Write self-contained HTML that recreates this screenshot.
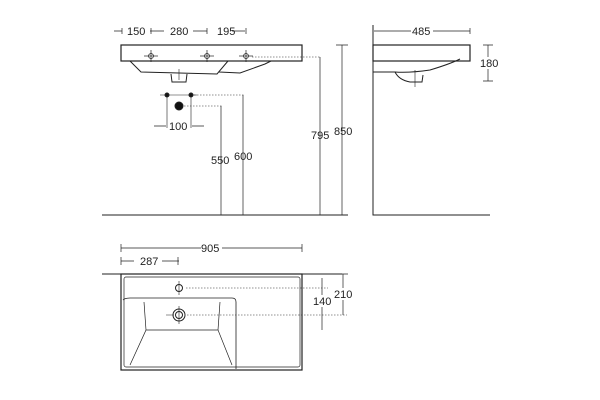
<!DOCTYPE html><html><head><style>body{margin:0;background:#fff}svg{display:block}text{font-family:"Liberation Sans",sans-serif;font-size:11px;fill:#222;stroke:none}</style></head><body>
<svg width="600" height="400" viewBox="0 0 600 400" fill="none" stroke="#222" stroke-width="1">
<!-- front view -->
<line x1="102" y1="215" x2="348" y2="215"/>
<rect x="121" y="45" width="181" height="16" stroke-width="1.2"/>
<path d="M130 61 L141 72 L217 74 L228 61 M219 72 L240 73 L265 64 L271 61"/>
<rect x="171" y="74" width="15" height="8" stroke="none" fill="#fff"/>
<path d="M171 74 L172 82 L186 82 L187 74"/>
<line x1="179" y1="69" x2="179" y2="80" stroke-width="0.6"/>
<g stroke-width="0.7"><circle cx="151" cy="56" r="2.5"/><circle cx="207" cy="56" r="2.5"/><circle cx="246" cy="56" r="2.5"/>
<line x1="144" y1="56" x2="158" y2="56"/><line x1="200" y1="56" x2="214" y2="56"/><line x1="239" y1="56" x2="253" y2="56"/>
<line x1="151" y1="50" x2="151" y2="62"/><line x1="207" y1="50" x2="207" y2="62"/><line x1="246" y1="50" x2="246" y2="62"/></g>
<g stroke-width="0.7"><path d="M114 31h8M150 31h14M193 31h14M232 31h13" /><path d="M122 28v6M151 28v6M207 28v6M246 28v6"/></g>
<text x="127" y="35">150</text><text x="170" y="35">280</text><text x="217" y="35">195</text>
<circle cx="167" cy="95" r="2" fill="#111"/><circle cx="191" cy="95" r="2" fill="#111"/>
<line x1="160" y1="95" x2="197" y2="95" stroke-width="0.6"/>
<circle cx="179" cy="106" r="4" fill="#111"/>
<path d="M167 97v31M191 97v31" stroke-width="0.6"/>
<path d="M154 126h12M192 126h12" stroke-width="0.7"/>
<text x="169" y="130">100</text>
<g stroke-width="0.6" stroke-dasharray="1.5 1.5"><path d="M194 95h50M184 106h38M252 57h68"/></g>
<g stroke-width="0.7"><path d="M221 106v109M243 95v120M320 57v158M342 45v170M336 45h12"/></g>
<text x="211" y="164">550</text><text x="234" y="160">600</text><text x="311" y="139">795</text><text x="334" y="135">850</text>
<!-- side view -->
<path d="M373 25v190h117"/>
<rect x="373" y="45" width="97" height="16" stroke-width="1.2"/>
<path d="M373 72 L395 72 Q410 73 430 70 Q450 64 460 59"/>
<path d="M395 72 Q399 80 410 82 L422 82 L423 75"/>
<line x1="415" y1="70" x2="415" y2="87" stroke-width="0.6"/>
<path d="M374 31h96M470 28v6M488 45v36M483 45h10M483 81h10" stroke-width="0.7"/>
<rect x="411" y="25" width="22" height="12" fill="#fff" stroke="none"/><text x="412" y="35">485</text>
<rect x="481" y="57" width="20" height="12" fill="#fff" stroke="none"/><text x="480" y="67">180</text>
<!-- top view -->
<line x1="102" y1="274" x2="342" y2="274"/>
<rect x="121" y="274" width="181" height="96" stroke-width="1.2"/>
<rect x="124" y="277" width="176" height="90" rx="2" stroke-width="0.7"/>
<path d="M123 300 Q125 298 130 298 L232 298 Q236 298 236 302 L236 369" stroke-width="0.8"/>
<path d="M144 302 L146 330 L130 365 M220 302 L218 330 L232 365 M146 330 L218 330" stroke-width="0.7"/>
<circle cx="179" cy="288" r="3.5"/><circle cx="179" cy="315" r="6"/><circle cx="179" cy="315" r="3.5"/>
<path d="M179 281v14M179 306v18M166 315h8" stroke-width="0.6"/>
<g stroke-width="0.6" stroke-dasharray="1.5 1.5"><path d="M186 288h142M187 315h160"/></g>
<path d="M121 248h80M222 248h80M121 261h13M162 261h17M121 244v8M302 244v8M121 257v8M178 257v8" stroke-width="0.7"/>
<text x="201" y="252">905</text><text x="140" y="265">287</text>
<path d="M322 278v52M343 274v41M338 274h10" stroke-width="0.7"/>
<rect x="313" y="295" width="20" height="12" fill="#fff" stroke="none"/><text x="313" y="305">140</text>
<rect x="334" y="288" width="20" height="12" fill="#fff" stroke="none"/><text x="334" y="298">210</text>
</svg></body></html>
